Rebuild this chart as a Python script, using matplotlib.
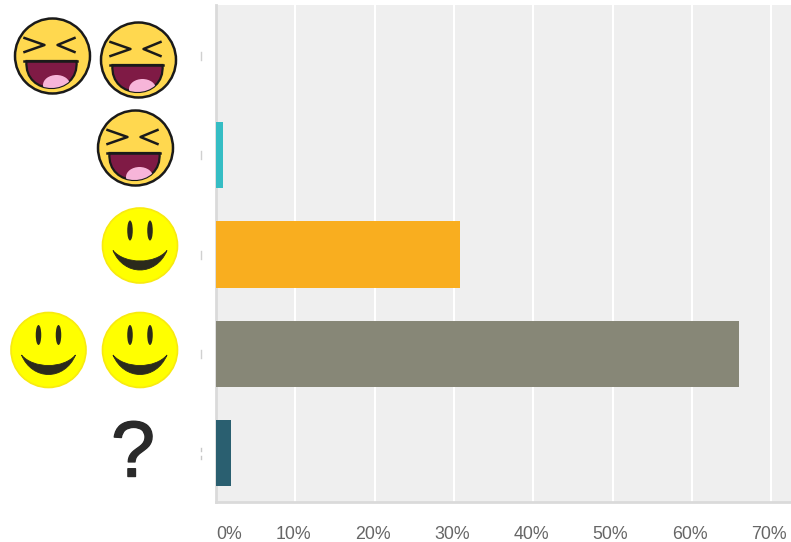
import matplotlib
matplotlib.use('Agg')
import matplotlib.pyplot as plt
import matplotlib.patheffects as pe
from matplotlib.patches import Circle, Ellipse, PathPatch
from matplotlib.path import Path
from matplotlib.transforms import ScaledTranslation

# rows from top to bottom, the original labels are pictures of faces
categories = ['two laughing', 'one laughing', 'one smile', 'two smiles', 'no answer']
percents = [0, 0.9, 30.8, 66, 1.9]
bar_colors = ['#35BDC4', '#35BDC4', '#F9AE1F', '#878777', '#2A5F70']
x_ticks = [0, 10, 20, 30, 40, 50, 60, 70]
x_labels = ['0%', '10%', '20%', '30%', '40%', '50%', '60%', '70%']

W, H = 791, 542
plt.rcParams['font.family'] = ['Liberation Sans', 'DejaVu Sans']

fig = plt.figure(figsize=(W / 100, H / 100), dpi=100)
ax = fig.add_axes([216 / W, 1 - 502 / H, (W - 216) / W, (502 - 5) / H])
ax.set_facecolor('#EFEFEF')

rows = list(range(len(categories)))
ax.barh(rows, percents, height=0.665, color=bar_colors, zorder=3)
ax.set_ylim(4.49, -0.51)
ax.set_xlim(0, 72.5)
ax.set_yticks([])
ax.set_xticks(x_ticks)
ax.set_xticklabels(x_labels, fontsize=12.8, color='#666666')
ax.tick_params(axis='x', length=0, pad=17.5)
ax.get_xticklabels()[0].set_horizontalalignment('left')
# labels sit a little left of their gridlines in the original
nudge = ScaledTranslation(-2 / 100, 0, fig.dpi_scale_trans)
for lab in ax.get_xticklabels()[1:]:
    lab.set_transform(lab.get_transform() + nudge)
ax.grid(axis='x', color='white', linewidth=1.5, zorder=1)
ax.set_axisbelow(True)
for side in ['top', 'right']:
    ax.spines[side].set_visible(False)
for side in ['left', 'bottom']:
    ax.spines[side].set_color('#DADADA')
    ax.spines[side].set_linewidth(2)

# overlay in pixel coordinates for the picture labels
over = fig.add_axes([0, 0, 1, 1], facecolor='none')
over.set_xlim(0, W)
over.set_ylim(H, 0)
over.axis('off')


def laugh_face(cx, cy):
    ink = '#1A1A1A'
    over.add_patch(Circle((cx, cy), 37.5, facecolor='#FFD84F', edgecolor=ink, linewidth=1.8))
    over.plot([cx - 28, cx - 8, cx - 28], [cy - 18, cy - 11, cy - 4], color=ink, lw=1.8)
    over.plot([cx + 22, cx + 5, cx + 22], [cy - 18, cy - 11, cy - 4], color=ink, lw=1.8)
    mouth = Path([(cx - 26, cy + 5), (cx - 29, cy + 41), (cx + 27, cy + 41), (cx + 24, cy + 5),
                  (cx - 26, cy + 5)],
                 [Path.MOVETO, Path.CURVE4, Path.CURVE4, Path.CURVE4, Path.CLOSEPOLY])
    shape = PathPatch(mouth, facecolor='#7F1A45', edgecolor=ink, linewidth=1.6)
    over.add_patch(shape)
    tongue = Ellipse((cx + 4, cy + 29), 27, 20, facecolor='#F7B5D9', edgecolor='none')
    over.add_patch(tongue)
    tongue.set_clip_path(shape)
    over.plot([cx - 29, cx + 24], [cy + 5, cy + 5], color=ink, lw=1.8)


def smile_face(cx, cy):
    ink = '#2B2A1C'
    over.add_patch(Circle((cx, cy), 37.5, facecolor='#FFFF00', edgecolor='#F8EA10', linewidth=1.2))
    over.add_patch(Ellipse((cx - 10, cy - 15), 5.5, 20, facecolor=ink, edgecolor='none'))
    over.add_patch(Ellipse((cx + 10, cy - 15), 5.5, 20, facecolor=ink, edgecolor='none'))
    mouth = Path([(cx - 27, cy + 5), (cx - 15, cy + 19), (cx + 15, cy + 19), (cx + 27, cy + 5),
                  (cx + 16, cy + 31), (cx - 16, cy + 31), (cx - 27, cy + 5)],
                 [Path.MOVETO, Path.CURVE4, Path.CURVE4, Path.CURVE4,
                  Path.CURVE4, Path.CURVE4, Path.CURVE4])
    over.add_patch(PathPatch(mouth, facecolor=ink, edgecolor=ink, linewidth=0.6))


laugh_face(52.5, 56)
laugh_face(138.5, 60)
laugh_face(135.5, 148)
smile_face(140, 245.5)
smile_face(48.5, 350)
smile_face(140, 350)
over.text(133, 456, '?', fontsize=57, color='#2A2A2A', ha='center', va='center',
          path_effects=[pe.withStroke(linewidth=1, foreground='#2A2A2A')])

# small cut-off marks left of the panel
for y in [56, 155, 255, 354]:
    over.plot([201, 201], [y - 4, y + 4], color='#D0D0D0', lw=1)
over.plot([201, 201], [448, 451], color='#C8C8C8', lw=1)
over.plot([201, 201], [456, 459], color='#C8C8C8', lw=1)

fig.savefig('out.png', dpi=100)
